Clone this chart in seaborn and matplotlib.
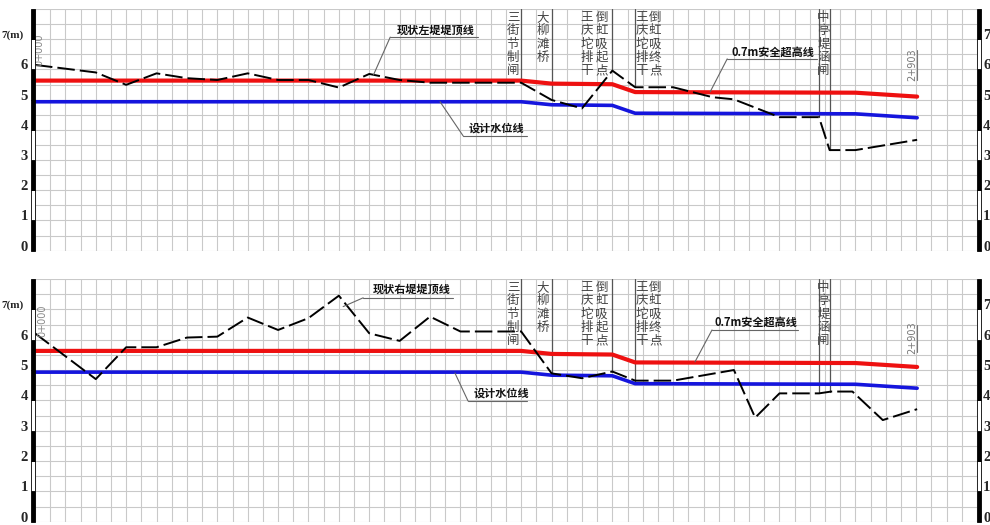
import numpy as np
import matplotlib
matplotlib.use("Agg")
import matplotlib.pyplot as plt
import matplotlib.transforms as mtransforms
from matplotlib.patches import Rectangle
import seaborn as sns

# ---------------- data ----------------
# design lines (chainage in m, elevation in m)
design_x = [0, 1600, 1700, 1900, 1975, 2700, 2903]
safety_y = [5.63, 5.63, 5.53, 5.51, 5.25, 5.23, 5.10]   # 0.7m安全超高线
water_y = [4.93, 4.93, 4.83, 4.81, 4.55, 4.53, 4.40]    # 设计水位线

# 现状左堤堤顶线
left_x = [0, 200, 300, 400, 500, 600, 700, 800, 900, 1000, 1100, 1200, 1300,
          1400, 1600, 1700, 1800, 1900, 1975, 2100, 2230, 2300, 2450, 2580,
          2615, 2700, 2903]
left_y = [6.15, 5.90, 5.49, 5.87, 5.71, 5.65, 5.87, 5.65, 5.65, 5.40, 5.85,
          5.65, 5.56, 5.56, 5.56, 4.99, 4.71, 5.96, 5.41, 5.41, 5.08, 5.01,
          4.42, 4.42, 3.33, 3.33, 3.67]

# 现状右堤堤顶线
right_x = [0, 200, 300, 400, 500, 600, 700, 800, 900, 1000, 1100, 1200, 1300,
           1400, 1600, 1700, 1800, 1900, 1975, 2100, 2300, 2370, 2450, 2580,
           2620, 2690, 2790, 2903]
right_y = [6.21, 4.70, 5.75, 5.75, 6.07, 6.10, 6.73, 6.32, 6.71, 7.45, 6.21,
           5.96, 6.76, 6.27, 6.27, 4.89, 4.73, 4.95, 4.65, 4.65, 5.00, 3.43,
           4.23, 4.23, 4.29, 4.29, 3.35, 3.71]

# structures along the dike
structures = ["三街节制闸", "大柳滩桥", "王庆坨排干", "倒虹吸起点",
              "王庆坨排干", "倒虹吸终点", "中亭堤涵闸"]
structure_x = [1573, 1672, 1816, 1865, 1997, 2041, 2595]
marker_x = [1600, 1700, 1900, 1975, 2580, 2615]

# axis labels
y_ticks = [0, 1, 2, 3, 4, 5, 6, 7]
y_left_labels = ["0", "1", "2", "3", "4", "5", "6", "7(m)"]
y_right_labels = ["0", "1", "2", "3", "4", "5", "6", "7"]
start_label, end_label = "0+000", "2+903"
end_chainage = 2903

# bar pattern of the elevation rulers (black / white per metre)
ruler_black = [True, False, True, False, True, True, False, True]

panels = [
    dict(name="现状左堤堤顶线", x=left_x, y=left_y,
         rect=[35 / 990, (525 - 250.7) / 525, 942 / 990, 241.7 / 525],
         labels=[("现状左堤堤顶线", (1320, 7.31), (1169, 1458, 7.07), (1114, 5.82)),
                 ("设计水位线", (1517, 4.06), (1409, 1619, 3.80), (1333, 4.93)),
                 ("0.7m安全超高线", (2429, 6.58), (2278, 2574, 6.35), (2222, 5.26))],
         start_pos=(16, 6.65), end_pos=(2888, 6.15), end_line=(5.65, 6.65)),
    dict(name="现状右堤堤顶线", x=right_x, y=right_y,
         rect=[35 / 990, (525 - 521.7) / 525, 942 / 990, 242.7 / 525],
         labels=[("现状右堤堤顶线", (1238, 7.67), (1080, 1376, 7.38), (1014, 7.09)),
                 ("设计水位线", (1534, 4.24), (1425, 1619, 3.98), (1382, 4.90)),
                 ("0.7m安全超高线", (2373, 6.59), (2228, 2512, 6.32), (2172, 5.27))],
         start_pos=(23, 6.64), end_pos=(2888, 6.05), end_line=(5.6, 6.5)),
]

# ---------------- style ----------------
sns.set_style("white")
plt.rcParams["font.family"] = ["Noto Sans CJK SC", "DejaVu Sans"]

fig = plt.figure(figsize=(9.9, 5.25), dpi=100)
fig.patch.set_facecolor("white")

tick_font = dict(family=["Liberation Serif", "DejaVu Serif"], weight="bold", fontsize=10.5)
unit_font = dict(family=["Liberation Serif", "DejaVu Serif"], weight="bold", fontsize=8)

for p in panels:
    ax = fig.add_axes(p["rect"])
    ax.set_xlim(0, 3100)
    ax.set_ylim(0, 8)
    ax.set_xticks(np.arange(0, 3101, 50))
    ax.set_yticks(np.arange(0, 8.01, 0.5))
    ax.grid(True, color="#c9c9c9", linewidth=0.8)
    ax.tick_params(length=0, labelbottom=False, labelleft=False)
    for s in ax.spines.values():
        s.set_visible(False)

    # design lines
    sns.lineplot(x=design_x, y=safety_y, ax=ax, color="#ee1111", linewidth=3.0,
                 estimator=None, sort=False, zorder=4)
    sns.lineplot(x=design_x, y=water_y, ax=ax, color="#1515dd", linewidth=2.6,
                 estimator=None, sort=False, zorder=4)
    # existing dike crest (dashed)
    sns.lineplot(x=p["x"], y=p["y"], ax=ax, color="black", linewidth=1.4,
                 estimator=None, sort=False, zorder=5)
    ax.lines[-1].set_dashes([9, 2.6])

    # structure markers
    for mx in marker_x:
        ytop = float(np.interp(mx, p["x"], p["y"]))
        ax.plot([mx, mx], [8, ytop], color="#555555", lw=0.9, zorder=3)
    for txt, sx in zip(structures, structure_x):
        ax.text(sx, 7.93, "\n".join(txt), ha="center", va="top", fontsize=9,
                color="#444444", linespacing=1.02, zorder=6)

    # leader labels
    for txt, (tx, ty), (ux0, ux1, uy), (lx, ly) in p["labels"]:
        ax.text(tx, ty, txt, ha="center", va="center", fontsize=8,
                fontweight="bold", color="#111111", zorder=6)
        ax.plot([ux0, ux1], [uy, uy], color="#666666", lw=0.8, zorder=6)
        ax.plot([lx, ux0], [ly, uy], color="#666666", lw=0.8, zorder=6)

    # chainage labels
    ax.text(p["start_pos"][0], p["start_pos"][1], start_label, rotation=90,
            ha="center", va="center", fontsize=7, color="#888888", zorder=6,
            family=["DejaVu Sans"])
    ax.text(p["end_pos"][0], p["end_pos"][1], end_label, rotation=90,
            ha="center", va="center", fontsize=7, color="#777777", zorder=6,
            family=["DejaVu Sans"])
    ax.plot([end_chainage, end_chainage], list(p["end_line"]), color="#777777",
            lw=0.8, zorder=6)

    # elevation rulers
    for i, black in enumerate(ruler_black):
        for x0 in (-14, 3100):
            ax.add_patch(Rectangle((x0, i), 14, 1, facecolor="black" if black else "white",
                                   edgecolor="black", linewidth=0.6, clip_on=False, zorder=7))

    # tick labels
    trans = mtransforms.blended_transform_factory(ax.transAxes, ax.transData)
    for v, lab_l, lab_r in zip(y_ticks, y_left_labels, y_right_labels):
        if "(" in lab_l:
            ax.text(-0.0125, v + 0.14, lab_l, transform=trans, ha="right", va="center",
                    clip_on=False, **unit_font)
        else:
            ax.text(-0.0117, v + 0.12, lab_l, transform=trans, ha="center", va="center",
                    clip_on=False, **tick_font)
        ax.text(1.0066, v + 0.12, lab_r, transform=trans, ha="left", va="center",
                clip_on=False, **tick_font)

fig.savefig("out.png", dpi=100, facecolor="white")
